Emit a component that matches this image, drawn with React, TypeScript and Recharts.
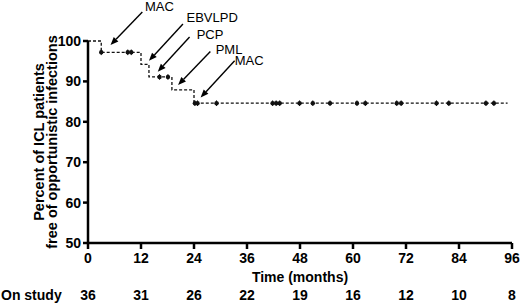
import { ComposedChart, Line, Scatter, XAxis, YAxis, ReferenceLine, ReferenceDot } from "recharts";

// Kaplan-Meier steps (months, % free of opportunistic infections)
const stepMonths = [0, 3, 12, 13.8, 19, 24, 95];
const stepPercents = [100, 97.2, 94.2, 91.1, 87.9, 84.6, 84.6];

// censored patients (tick marks on the curve)
const censoredMonths = [
  3, 9, 9.8, 16.2, 18.1, 24.2, 24.8, 29.1, 41.8, 42.6, 43.4, 47.9, 50.9, 54.8,
  60.9, 62.8, 69.9, 70.9, 78.9, 81.7, 90.1, 91.9,
];

const monthTicks = [0, 12, 24, 36, 48, 60, 72, 84, 96];
const onStudy = [36, 31, 26, 22, 19, 16, 12, 10, 8];
const percentTicks = [50, 60, 70, 80, 90, 100];

const infections = ["MAC", "EBVLPD", "PCP", "PML", "MAC"];

// annotation placement, in chart units (month, percent)
const annotations = [
  { text: [12.9, 107.4], from: [12.3, 107.2], to: [5.1, 99.0] },
  { text: [22.3, 104.6], from: [21.5, 104.2], to: [13.8, 95.1] },
  { text: [24.6, 100.6], from: [23.0, 101.0], to: [15.8, 92.4] },
  { text: [28.9, 96.9], from: [27.7, 97.4], to: [20.4, 89.1] },
  { text: [33.2, 94.1], from: [33.2, 95.1], to: [25.5, 86.0] },
];

const FONT = "'Liberation Sans', Arial, Helvetica, sans-serif";

const curve = stepMonths.map((m, i) => ({ month: m, percent: stepPercents[i] }));

const percentAt = (m: number) => {
  let v = stepPercents[0];
  stepMonths.forEach((s, i) => {
    if (s <= m) v = stepPercents[i];
  });
  return v;
};
const censored = censoredMonths.map((m) => ({ month: m, percent: percentAt(m) }));

const CensorMark = (props: any) => {
  const { cx, cy } = props;
  return (
    <g>
      <circle cx={cx} cy={cy} r={2.2} fill="#111" />
      <line x1={cx} x2={cx} y1={cy - 2.8} y2={cy + 2.8} stroke="#111" strokeWidth={1} />
    </g>
  );
};

const Arrow = (props: any) => {
  const { x1, y1, x2, y2 } = props;
  const a = Math.atan2(y2 - y1, x2 - x1);
  const len = 8;
  const hw = 3.2;
  const bx = x2 - len * Math.cos(a);
  const by = y2 - len * Math.sin(a);
  const px = -Math.sin(a) * hw;
  const py = Math.cos(a) * hw;
  return (
    <g>
      <line x1={x1} y1={y1} x2={bx} y2={by} stroke="#000" strokeWidth={1.4} />
      <polygon points={`${x2},${y2} ${bx + px},${by + py} ${bx - px},${by - py}`} fill="#000" />
    </g>
  );
};

const boldText = { fill: "#000", fontSize: 14, fontWeight: 700, fontFamily: FONT };

// month label plus the number still on study underneath it
const MonthTick = (props: any) => {
  const { x, y, payload } = props;
  const idx = monthTicks.indexOf(payload.value);
  return (
    <g>
      <text x={x} y={y} dy="0.71em" textAnchor="middle" {...boldText}>
        {payload.value}
      </text>
      <text x={x} y={y + 47} textAnchor="middle" {...boldText}>
        {onStudy[idx]}
      </text>
    </g>
  );
};

export default function App() {
  return (
    <div style={{ position: "absolute", left: 0, top: 0, background: "#fff" }}>
      <ComposedChart width={520} height={304} margin={{ top: 41, right: 8, bottom: 0, left: 0 }}>
        <XAxis
          dataKey="month"
          type="number"
          domain={[0, 96]}
          ticks={monthTicks}
          interval={0}
          height={61}
          tickSize={6}
          tickMargin={4}
          tick={MonthTick}
          axisLine={{ stroke: "#000", strokeWidth: 2.5 }}
          tickLine={{ stroke: "#000", strokeWidth: 2.5 }}
          label={(p: any) => (
            <g {...boldText}>
              <text x={p.viewBox.x + p.viewBox.width / 2} y={p.viewBox.y + 39} textAnchor="middle">
                Time (months)
              </text>
              <text x={1} y={p.viewBox.y + 57} textAnchor="start">
                On study
              </text>
            </g>
          )}
        />
        <YAxis
          type="number"
          domain={[50, 100]}
          ticks={percentTicks}
          interval={0}
          width={88}
          tickSize={5}
          tickMargin={2}
          tick={boldText}
          axisLine={{ stroke: "#000", strokeWidth: 2.5 }}
          tickLine={{ stroke: "#000", strokeWidth: 2.5 }}
          label={(p: any) => {
            const cy = p.viewBox.y + p.viewBox.height / 2;
            return (
              <g fontSize={14.5} fontWeight={700} fontFamily={FONT} fill="#000">
                <text x={38.5} y={cy} transform={`rotate(-90, 38.5, ${cy})`} textAnchor="middle" dominantBaseline="central">
                  Percent of ICL patients
                </text>
                <text x={52} y={cy} transform={`rotate(-90, 52, ${cy})`} textAnchor="middle" dominantBaseline="central">
                  free of opportunistic infections
                </text>
              </g>
            );
          }}
        />
        <Line
          data={curve}
          dataKey="percent"
          type="stepAfter"
          stroke="#111"
          strokeWidth={1.3}
          strokeDasharray="3 2"
          dot={false}
          isAnimationActive={false}
        />
        <Scatter data={censored} dataKey="percent" shape={CensorMark} isAnimationActive={false} />
        {annotations.map((a, i) => (
          <ReferenceLine
            key={`arrow-${i}`}
            segment={[
              { x: a.from[0], y: a.from[1] },
              { x: a.to[0], y: a.to[1] },
            ]}
            ifOverflow="visible"
            shape={Arrow}
          />
        ))}
        {annotations.map((a, i) => (
          <ReferenceDot
            key={`label-${i}`}
            x={a.text[0]}
            y={a.text[1]}
            ifOverflow="visible"
            shape={(p: any) => (
              <text x={p.cx} y={p.cy} fontSize={13} fontFamily={FONT} fill="#000">
                {infections[i]}
              </text>
            )}
          />
        ))}
      </ComposedChart>
    </div>
  );
}
